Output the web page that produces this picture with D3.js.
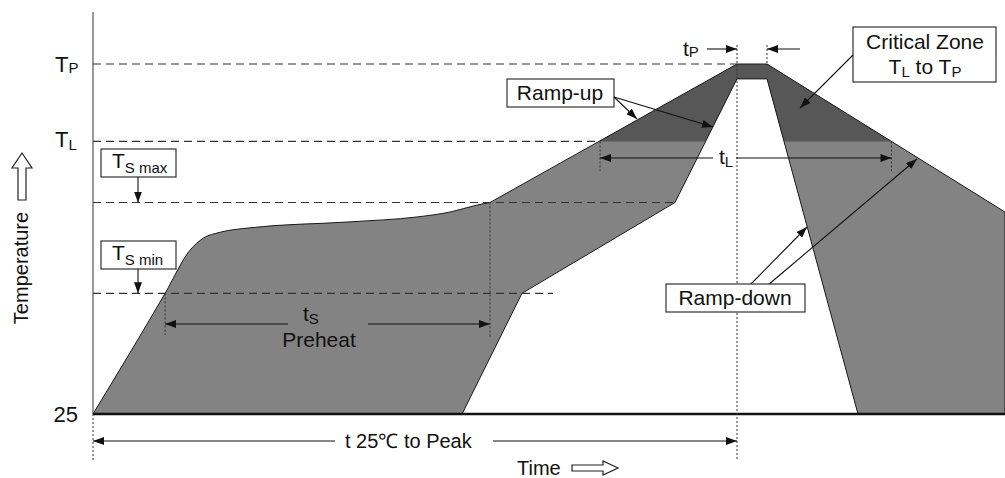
<!DOCTYPE html>
<meta charset="utf-8">
<style>
  body { margin: 0; background: #fff; }
  text { font-family: "Liberation Sans", Arial, sans-serif; fill: #111; }
</style>
<body>
<script src="https://d3js.org/d3.v7.min.js"></script>
<script>
  // temperature levels (schematic units, 25 is the only printed value)
  const T25 = 25, TSmin = 106, TSmax = 167, TL = 208, TP = 260, TPin = 250;
  // time marks
  const tStart = 0, tSmin = 33.6, tSmax = 185, tLstart = 236.3,
        tPeak = 300.1, tPeakEnd = 314.1, tLend = 372.1, tEnd = 425;

  // upper edge of the band: ramp + soak (smooth part)
  const soakT = [0, 33.6, 45.2, 51.3, 59.2, 73.2, 119.8, 151, 166.4, 179, 185];
  const soakC = [25, 106, 135, 143, 147, 150, 154, 157.3, 160.6, 165.3, 167];
  // rest of the band outline, clockwise
  const edgeT = [300.1, 314.1, 425, 425, 356.5, 314.1, 300.1, 271.2, 199.9, 172];
  const edgeC = [260, 260, 160.6, 25, 25, 250, 250, 167, 106, 25];

  const W = 1005, H = 478;
  const x = d3.scaleLinear().domain([0, 425]).range([93, 1005]);
  const y = d3.scaleLinear().domain([25, 260]).range([414, 64]);

  const svg = d3.select("body").append("svg")
    .attr("width", W).attr("height", H);

  const defs = svg.append("defs");
  defs.append("marker")
    .attr("id", "head")
    .attr("markerUnits", "userSpaceOnUse")
    .attr("markerWidth", 12).attr("markerHeight", 8)
    .attr("refX", 11).attr("refY", 4)
    .attr("orient", "auto-start-reverse")
    .append("path").attr("d", "M0,0 L11,4 L0,8 Z").attr("fill", "#111");
  defs.append("clipPath").attr("id", "hot")
    .append("rect").attr("x", 0).attr("y", 0).attr("width", W).attr("height", y(TL));

  // band shape
  const smooth = d3.line().x(d => x(d[0])).y(d => y(d[1])).curve(d3.curveMonotoneX);
  const straight = d3.line().x(d => x(d[0])).y(d => y(d[1]));
  const shape = smooth(d3.zip(soakT, soakC)) +
    straight(d3.zip(edgeT, edgeC)).replace(/^M/, "L") + "Z";

  svg.append("path").attr("d", shape)
    .attr("fill", "#838383").attr("stroke", "none");
  svg.append("path").attr("d", shape).attr("clip-path", "url(#hot)")
    .attr("fill", "#575757");
  svg.append("path").attr("d", shape)
    .attr("fill", "none").attr("stroke", "#1a1a1a").attr("stroke-width", 1);

  // axis
  svg.append("line")
    .attr("x1", x(0)).attr("x2", x(0)).attr("y1", 12).attr("y2", y(T25))
    .attr("stroke", "#555").attr("stroke-width", 1.2);
  svg.append("line")
    .attr("x1", x(0)).attr("x2", x(tEnd)).attr("y1", y(T25)).attr("y2", y(T25))
    .attr("stroke", "#111").attr("stroke-width", 2.5);

  // dashed level lines
  const dashC = [TP, TL, TSmax, TSmin];
  const dashEnd = [tPeak, tLstart, 271.2, 214.4];
  svg.append("g").selectAll("line").data(d3.zip(dashC, dashEnd)).join("line")
    .attr("x1", x(0)).attr("x2", d => x(d[1]))
    .attr("y1", d => y(d[0])).attr("y2", d => y(d[0]))
    .attr("stroke", "#333").attr("stroke-width", 1.2)
    .attr("stroke-dasharray", "8,5");

  // dotted verticals [time, from temp, to pixel]
  const dotT = [tStart, tPeak, tPeakEnd, tSmin, tSmax, tLstart, tLend];
  const dotTop = [y(T25), 45, 45, y(TSmin), y(TSmax), y(TL), y(TL)];
  const dotBot = [460, 460, y(TP), 335, 337, 171, 171];
  svg.append("g").selectAll("line").data(dotT).join("line")
    .attr("x1", d => x(d)).attr("x2", d => x(d))
    .attr("y1", (d, i) => dotTop[i]).attr("y2", (d, i) => dotBot[i])
    .attr("stroke", "#333").attr("stroke-width", 1)
    .attr("stroke-dasharray", "2,2");

  function arrow(x1, y1, x2, y2, both) {
    const l = svg.append("line")
      .attr("x1", x1).attr("y1", y1).attr("x2", x2).attr("y2", y2)
      .attr("stroke", "#111").attr("stroke-width", 1.1)
      .attr("marker-end", "url(#head)");
    if (both) l.attr("marker-start", "url(#head)");
    return l;
  }
  function sub(g, px, py, main, small, size, dy) {
    const t = g.append("text").attr("x", px).attr("y", py).style("font-size", size + "px");
    t.append("tspan").text(main);
    t.append("tspan").attr("dy", dy).style("font-size", Math.round(size * 0.7) + "px").text(small);
    return t;
  }

  // dimension arrows with gaps for labels
  arrow(345 - 10, 441, x(tStart), 441);
  arrow(493, 441, x(tPeak), 441);
  svg.append("text").attr("x", 345).attr("y", 448).style("font-size", "20px").text("t 25℃ to Peak");

  arrow(288, 324, x(tSmin), 324);
  arrow(368, 324, x(tSmax), 324);
  sub(svg, 303, 321, "t", "S", 21, 3);
  svg.append("text").attr("x", 319).attr("y", 347).attr("text-anchor", "middle")
    .style("font-size", "21px").text("Preheat");

  arrow(713, 158, x(tLstart), 158);
  arrow(736, 158, x(tLend), 158);
  sub(svg, 719, 164, "t", "L", 21, 3);

  arrow(707, 49, x(tPeak), 49);
  arrow(800, 49, x(tPeakEnd), 49);
  sub(svg, 683, 56, "t", "P", 21, 1);

  // y labels
  sub(svg, 55, 72, "T", "P", 22, 1);
  sub(svg, 55, 147, "T", "L", 22, 3);
  svg.append("text").attr("x", 78).attr("y", 422).attr("text-anchor", "end")
    .style("font-size", "22px").text("25");

  // boxed labels
  function box(x0, y0, w, h) {
    svg.append("rect").attr("x", x0).attr("y", y0).attr("width", w).attr("height", h)
      .attr("fill", "#fff").attr("stroke", "#333").attr("stroke-width", 1.2);
  }
  box(101, 149, 75, 28);
  sub(svg, 112, 168, "T", "S max", 21, 5);
  arrow(138, 177, 138, y(TSmax));
  box(101, 241, 75, 28);
  sub(svg, 112, 260, "T", "S min", 21, 5);
  arrow(138, 269, 138, y(TSmin));

  box(507, 79, 107, 28);
  svg.append("text").attr("x", 560).attr("y", 100).attr("text-anchor", "middle")
    .style("font-size", "21px").text("Ramp-up");
  arrow(614, 97, 637, 119);
  arrow(614, 97, 713, 127);

  box(853, 27, 143, 55);
  svg.append("text").attr("x", 925).attr("y", 49).attr("text-anchor", "middle")
    .style("font-size", "21px").text("Critical Zone");
  const cz = svg.append("text").attr("x", 925).attr("y", 74).attr("text-anchor", "middle")
    .style("font-size", "21px");
  cz.append("tspan").text("T");
  cz.append("tspan").attr("dy", 3).style("font-size", "15px").text("L");
  cz.append("tspan").attr("dy", -3).text(" to T");
  cz.append("tspan").attr("dy", 3).style("font-size", "15px").text("P");
  arrow(853, 55, 800, 108);

  arrow(750, 285, 807, 227);
  arrow(768, 285, 917, 159);
  box(666, 284, 139, 28);
  svg.append("text").attr("x", 735).attr("y", 305).attr("text-anchor", "middle")
    .style("font-size", "21px").text("Ramp-down");

  // axis titles with hollow arrows
  svg.append("text").attr("transform", "translate(28,268) rotate(-90)")
    .attr("text-anchor", "middle").style("font-size", "20px").text("Temperature");
  svg.append("path")
    .attr("d", "M22,153 L32,168 L26,168 L26,200 L18,200 L18,168 L12,168 Z")
    .attr("fill", "#fff").attr("stroke", "#222").attr("stroke-width", 1.2);

  svg.append("text").attr("x", 517).attr("y", 475).style("font-size", "20px").text("Time");
  svg.append("path")
    .attr("d", "M618,468 L603,461 L603,465 L572,465 L572,471 L603,471 L603,475 Z")
    .attr("fill", "#fff").attr("stroke", "#222").attr("stroke-width", 1.2);
</script>
</body>
